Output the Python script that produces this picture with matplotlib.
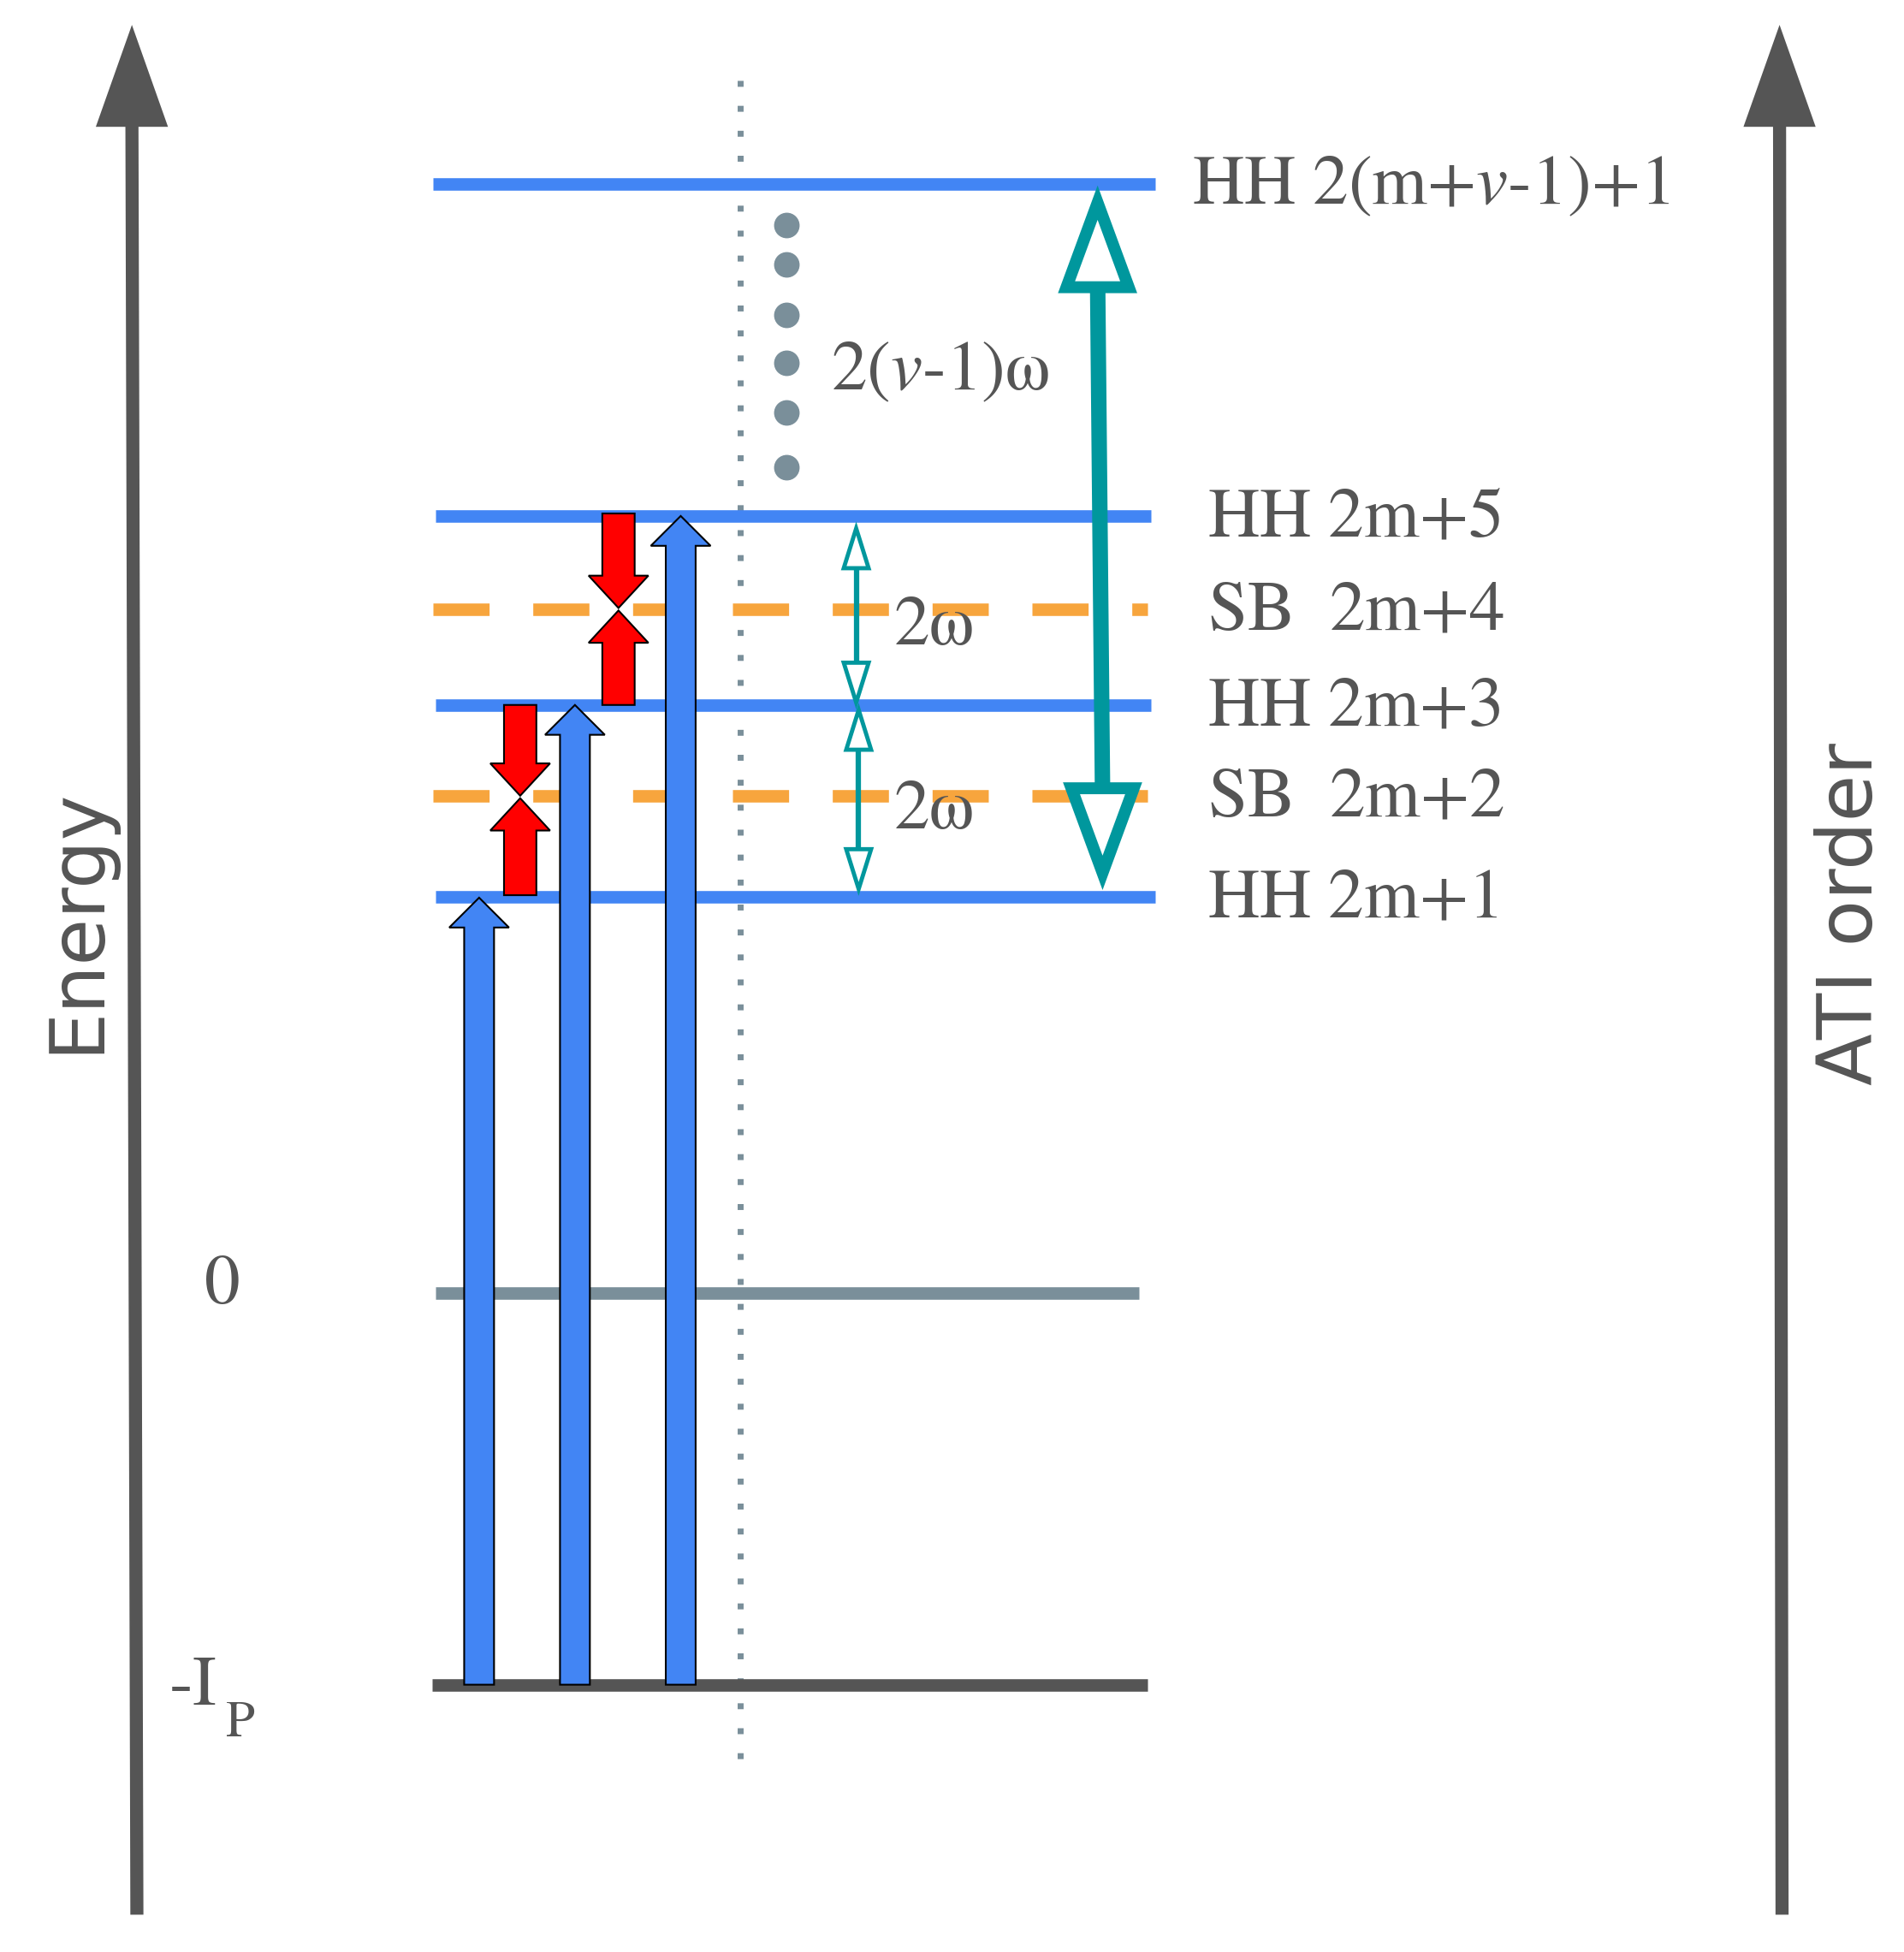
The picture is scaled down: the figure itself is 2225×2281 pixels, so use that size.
import matplotlib
matplotlib.use("Agg")
import matplotlib.pyplot as plt
from matplotlib.patches import Polygon, FancyArrow

# level data (display coordinates of reference, y downward)
hh_labels = [r"$\mathrm{HH\ 2(m{+}}\mathit{v}\text{-}\mathrm{1){+}1}$", r"$\mathrm{HH\ 2m{+}5}$",
             r"$\mathrm{HH\ 2m{+}3}$", r"$\mathrm{HH\ 2m{+}1}$"]
hh_y = [148, 415, 567, 721]
hh_x0 = [348, 350, 350, 350]
hh_x1 = [928, 925, 925, 928]
sb_labels = [r"$\mathrm{SB\ \ 2m{+}4}$", r"$\mathrm{SB\ \ 2m{+}2}$"]
sb_y = [490, 640]
zero_y = 1040
ip_y = 1355
pump_x = [385, 462, 547]
pump_top = [722, 567, 415]
dots_y = [181, 213, 253, 292, 332, 376]

BLUE = "#4285f4"; ORANGE = "#f7a53d"; GREY = "#7a8f9a"; DARK = "#555555"; TEAL = "#00979d"
plt.rcParams["mathtext.fontset"] = "stix"
FS = 60

fig = plt.figure(figsize=(22.25, 22.81), dpi=100)
ax = fig.add_axes([0, 0, 1, 1])
ax.set_xlim(0, 1530); ax.set_ylim(1570, 0); ax.axis("off")

def tri(x, ytip, w, h, up, fc, ec, lw=0):
    yb = ytip + h if up else ytip - h
    ax.add_patch(Polygon([(x - w/2, yb), (x + w/2, yb), (x, ytip)], closed=True,
                         facecolor=fc, edgecolor=ec, lw=lw, zorder=6, joinstyle="miter"))

# axis arrows
for xb, xt, lab, lx in [(110, 106, "Energy", 62), (1432, 1430, "ATI order", 1488)]:
    ax.plot([xb, xt], [1540, 95], color=DARK, lw=11, solid_capstyle="butt")
    tri(xt, 20, 58, 82, True, DARK, DARK)
    ax.text(lx, 740 if lab == "Energy" else 735, lab, rotation=90, fontsize=64, color=DARK,
            ha="center", va="center", family="DejaVu Sans")

# dotted line
ax.plot([595, 595], [65, 1420], color=GREY, lw=5, ls=(0, (1, 3.2)))

# levels
for y, a, b in zip(hh_y, hh_x0, hh_x1):
    ax.plot([a, b], [y, y], color=BLUE, lw=10.5, solid_capstyle="butt", zorder=2)
for y in sb_y:
    ax.plot([348, 922], [y, y], color=ORANGE, lw=10.5, ls=(0, (4.5, 3.5)), zorder=2)
ax.plot([350, 915], [zero_y, zero_y], color=GREY, lw=10.5, solid_capstyle="butt")
ax.plot([347, 922], [ip_y, ip_y], color=DARK, lw=10.5, solid_capstyle="butt")

# labels
for lab, y in zip(hh_labels, hh_y):
    ax.text(958 if "mathit" in lab else 970, y, lab, fontsize=FS, color=DARK, va="center")
for lab, y in zip(sb_labels, sb_y):
    ax.text(970, y, lab, fontsize=FS, color=DARK, va="center")
ax.text(178, 1032, r"$\mathrm{0}$", fontsize=FS, color=DARK, ha="center", va="center")
ax.text(155, 1355, r"$\text{-}\mathrm{I}$", fontsize=FS, color=DARK, ha="center", va="center")
ax.text(193, 1385, r"$\mathrm{P}$", fontsize=44, color=DARK, ha="center", va="center")
ax.text(668, 297, r"$\mathrm{2(}\mathit{v}\text{-}\mathrm{1)\omega}$", fontsize=FS, color=DARK, va="center")
ax.text(718, 502, r"$\mathrm{2\omega}$", fontsize=FS, color=DARK, va="center")
ax.text(718, 650, r"$\mathrm{2\omega}$", fontsize=FS, color=DARK, va="center")

# vertical dots
ax.scatter([632] * len(dots_y), dots_y, s=420, color=GREY, zorder=3)

# pump arrows
for x, top in zip(pump_x, pump_top):
    ax.add_patch(FancyArrow(x, ip_y, 0, top - ip_y, width=24, head_width=48, head_length=24,
                            length_includes_head=True, facecolor=BLUE, edgecolor="black", lw=1.5, zorder=5))

# red arrows
for x, ytop, ymid, ybot in [(497, 413, 490, 567), (418, 567, 641, 720)]:
    ax.add_patch(FancyArrow(x, ytop, 0, ymid - ytop - 1, width=26, head_width=48, head_length=26,
                            length_includes_head=True, facecolor="#ff0000", edgecolor="black", lw=1.5, zorder=5))
    ax.add_patch(FancyArrow(x, ybot, 0, ymid - ybot + 1, width=26, head_width=48, head_length=26,
                            length_includes_head=True, facecolor="#ff0000", edgecolor="black", lw=1.5, zorder=5))

# small teal double arrows
for x, y0, y1 in [(688, 425, 565), (690, 571, 715)]:
    ax.plot([x, x], [y0 + 30, y1 - 30], color=TEAL, lw=4.5)
    tri(x, y0, 20, 32, True, "white", TEAL, 3.5)
    tri(x, y1, 20, 32, False, "white", TEAL, 3.5)

# big teal double arrow
ax.plot([882, 886], [225, 640], color=TEAL, lw=13)
tri(882, 163, 50, 68, True, "white", TEAL, 10)
tri(886, 702, 50, 68, False, "white", TEAL, 10)

fig.savefig("out.png", dpi=100)
